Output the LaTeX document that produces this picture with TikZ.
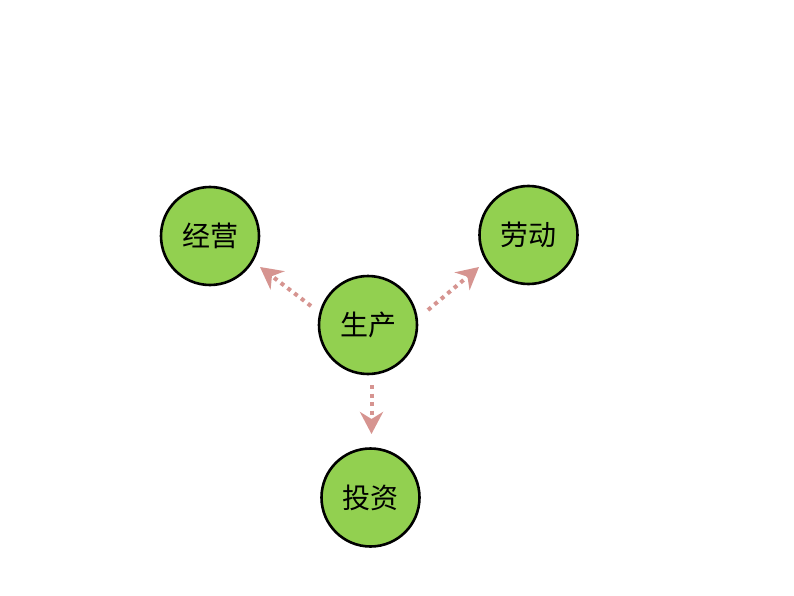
\documentclass[tikz,border=0pt]{standalone}
\usepackage{fontspec}
\newfontfamily\cjk{Noto Sans CJK SC}
\usetikzlibrary{arrows.meta}
\definecolor{circgreen}{HTML}{92D050}
\definecolor{arrowpink}{HTML}{D69490}
\tikzset{
  bubble/.style={circle, draw=black, line width=2.6pt, fill=circgreen, minimum size=98pt, inner sep=0pt, font=\cjk\fontsize{28pt}{30pt}\selectfont},
  dotarrow/.style={draw=arrowpink, line width=4pt, dash pattern=on 4pt off 4.5pt, -{Stealth[length=22pt, width=23pt, inset=7pt, fill=arrowpink]}}
}
\begin{document}
\begin{tikzpicture}[x=1pt, y=-1pt]
\useasboundingbox[fill=white] (0,0) rectangle (794,596);
\node[bubble] (jy) at (210,236) {经营};
\node[bubble] (ld) at (528.5,235) {劳动};
\node[bubble] (sc) at (368,325) {生产};
\node[bubble] (tz) at (370.5,497.5) {投资};
\coordinate (s1) at (311,306);
\coordinate (e1) at (260,267);
\coordinate (s2) at (428,310);
\coordinate (e2) at (479,267);
\coordinate (s3) at (371.5,385);
\coordinate (e3) at (371.5,434);
\draw[dotarrow] (s1) -- (e1);
\draw[dotarrow] (s2) -- (e2);
\draw[dotarrow] (s3) -- (e3);
\end{tikzpicture}
\end{document}
